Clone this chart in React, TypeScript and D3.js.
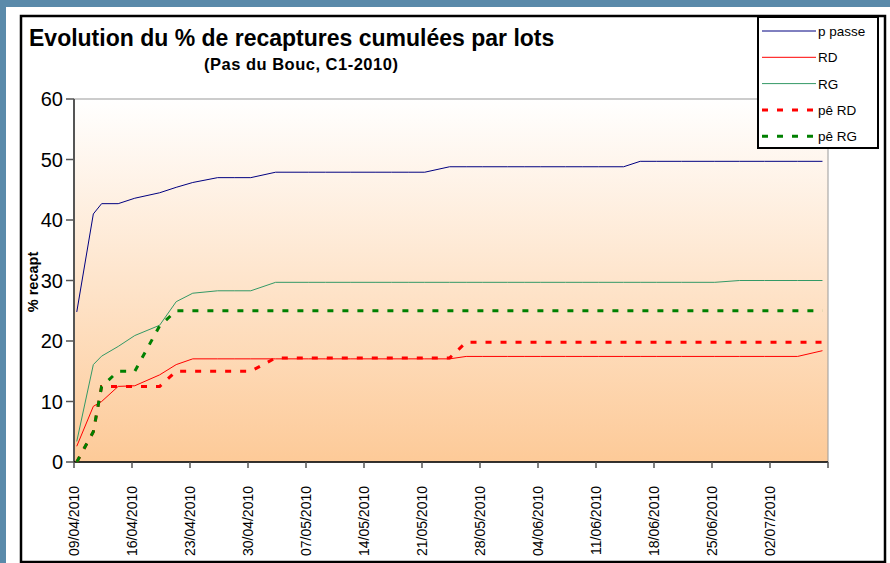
import React from "react";
import * as d3 from "d3";

// ---- data ----
const DATES = [
  "09/04/2010", "11/04/2010", "12/04/2010", "14/04/2010", "16/04/2010", "19/04/2010",
  "21/04/2010", "23/04/2010", "26/04/2010", "28/04/2010", "30/04/2010", "03/05/2010",
  "07/05/2010", "09/05/2010", "12/05/2010", "15/05/2010", "17/05/2010", "19/05/2010",
  "21/05/2010", "24/05/2010", "26/05/2010", "28/05/2010", "31/05/2010", "02/06/2010",
  "04/06/2010", "07/06/2010", "09/06/2010", "11/06/2010", "14/06/2010", "16/06/2010",
  "18/06/2010", "21/06/2010", "25/06/2010", "28/06/2010", "01/07/2010", "05/07/2010",
  "08/07/2010",
];

const P_PASSE = [
  24.8, 41.0, 42.7, 42.7, 43.6, 44.5, 45.4, 46.2, 47.0, 47.0, 47.0,
  47.9, 47.9, 47.9, 47.9, 47.9, 47.9, 47.9, 47.9,
  48.8, 48.8, 48.8, 48.8, 48.8, 48.8, 48.8, 48.8, 48.8, 48.8,
  49.7, 49.7, 49.7, 49.7, 49.7, 49.7, 49.7, 49.7,
];
const RD = [
  2.6, 9.2, 10.0, 12.5, 12.6, 14.4, 16.1,
  17.05, 17.05, 17.05, 17.05, 17.05, 17.05, 17.05, 17.05, 17.05, 17.05, 17.05, 17.05, 17.05,
  17.45, 17.45, 17.45, 17.45, 17.45, 17.45, 17.45, 17.45, 17.45, 17.45, 17.45, 17.45,
  17.45, 17.45, 17.45, 17.45,
  18.4,
];
const RG = [
  3.4, 16.1, 17.5, 19.1, 20.9, 22.6, 26.5, 27.9, 28.3, 28.3, 28.3,
  29.7, 29.7, 29.7, 29.7, 29.7, 29.7, 29.7, 29.7, 29.7, 29.7, 29.7,
  29.7, 29.7, 29.7, 29.7, 29.7, 29.7, 29.7, 29.7, 29.7, 29.7, 29.7,
  30.0, 30.0, 30.0, 30.0,
];
const PE_RD = [
  0, 5, 12.5, 12.5, 12.5, 12.5, 15, 15, 15, 15, 15,
  17.2, 17.2, 17.2, 17.2, 17.2, 17.2, 17.2, 17.2, 17.2,
  19.8, 19.8, 19.8, 19.8, 19.8, 19.8, 19.8, 19.8, 19.8, 19.8,
  19.8, 19.8, 19.8, 19.8, 19.8, 19.8, 19.8,
];
const PE_RG = [
  0, 5, 12.5, 15, 15, 22.5,
  25, 25, 25, 25, 25, 25, 25, 25, 25, 25, 25, 25, 25, 25, 25, 25,
  25, 25, 25, 25, 25, 25, 25, 25, 25, 25, 25, 25, 25, 25, 25,
];

const TICK_DATES = [
  "09/04/2010", "16/04/2010", "23/04/2010", "30/04/2010", "07/05/2010", "14/05/2010",
  "21/05/2010", "28/05/2010", "04/06/2010", "11/06/2010", "18/06/2010", "25/06/2010",
  "02/07/2010", "09/07/2010",
];
const Y_TICKS = [0, 10, 20, 30, 40, 50, 60];

const SERIES = [
  { name: "p passe", values: P_PASSE, color: "#000080", width: 1, dash: null },
  { name: "RD", values: RD, color: "#FF0000", width: 1, dash: null },
  { name: "RG", values: RG, color: "#339966", width: 1, dash: null },
  { name: "pê RD", values: PE_RD, color: "#FF0000", width: 3, dash: "6,9" },
  { name: "pê RG", values: PE_RG, color: "#008000", width: 3, dash: "6,9" },
];

const TITLE = "Evolution du % de recaptures cumulées par lots";
const SUBTITLE = "(Pas du Bouc, C1-2010)";
const Y_TITLE = "% recapt";

const parse = d3.timeParse("%d/%m/%Y");
const POINT_OFFSET_HOURS = 8;

export default function App() {
  const W = 890, H = 563;
  const plot = { left: 74, right: 828, top: 99, bottom: 462 };
  const x = d3.scaleTime()
    .domain([parse(TICK_DATES[0])!, parse(TICK_DATES[TICK_DATES.length - 1])!])
    .range([plot.left, plot.right]);
  const y = d3.scaleLinear().domain([0, 60]).range([plot.bottom, plot.top]);
  const pts = DATES.map((d) => d3.timeHour.offset(parse(d)!, POINT_OFFSET_HOURS));
  const line = d3.line<number>()
    .x((_, i) => x(pts[i]))
    .y((v) => y(v));
  const font = "'Liberation Sans', Arial, sans-serif";
  const legend = { x: 758, y: 17, w: 120, h: 131 };

  return (
    <svg width={W} height={H} style={{ position: "absolute", left: 0, top: 0 }} fontFamily={font}>
      <defs>
        <linearGradient id="bg" x1="0" y1="0" x2="0" y2="1">
          <stop offset="0" stopColor="#FFFFFF" />
          <stop offset="1" stopColor="#FDCA98" />
        </linearGradient>
      </defs>
      <rect x={0} y={0} width={W} height={H} fill="#5A8AAA" />
      <rect x={6} y={7} width={W - 6} height={H - 7} fill="#FFFFFF" />
      <rect x={21} y={16} width={864} height={546} fill="#FFFFFF" stroke="#000" strokeWidth={2.5} />

      {/* plot area */}
      <rect x={plot.left} y={plot.top} width={plot.right - plot.left} height={plot.bottom - plot.top}
        fill="url(#bg)" stroke="#9A9A9A" strokeWidth={1} />

      {/* titles */}
      <text x={29} y={46} fontSize={23} fontWeight="bold" fill="#000">{TITLE}</text>
      <text x={204} y={70} fontSize={16.5} fontWeight="bold" fill="#000" letterSpacing={0.5}>{SUBTITLE}</text>

      {/* y axis */}
      <line x1={plot.left} x2={plot.left} y1={plot.top} y2={plot.bottom} stroke="#555" strokeWidth={2} />
      {Y_TICKS.map((t) => (
        <g key={t}>
          <line x1={plot.left - 8} x2={plot.left} y1={y(t)} y2={y(t)} stroke="#555" strokeWidth={1.5} />
          <text x={63} y={y(t) + 7} fontSize={20} textAnchor="end" fill="#000">{t}</text>
        </g>
      ))}
      <text transform={`translate(38,282) rotate(-90)`} fontSize={14.5} fontWeight="bold" textAnchor="middle" fill="#000">{Y_TITLE}</text>

      {/* x axis */}
      <line x1={plot.left} x2={plot.right} y1={plot.bottom} y2={plot.bottom} stroke="#000" strokeWidth={1.5} />
      {TICK_DATES.map((d, i) => {
        const tx = x(parse(d)!);
        return (
          <g key={d}>
            <line x1={tx} x2={tx} y1={plot.bottom} y2={plot.bottom + 6} stroke="#555" strokeWidth={1.5} />
            {i < TICK_DATES.length - 1 && (
              <text transform={`translate(${tx + 5},486) rotate(-90)`} fontSize={14} textAnchor="end" fill="#000">{d}</text>
            )}
          </g>
        );
      })}

      {/* series */}
      {SERIES.map((s) => (
        <path key={s.name} d={line(s.values) || ""} fill="none" stroke={s.color}
          strokeWidth={s.width} strokeDasharray={s.dash || undefined} />
      ))}

      {/* legend */}
      <rect x={legend.x} y={legend.y} width={legend.w} height={legend.h} fill="#FFFFFF" stroke="#000" strokeWidth={2} />
      {SERIES.map((s, i) => {
        const cy = 31 + i * 26.3;
        return (
          <g key={s.name}>
            <line x1={762} x2={816} y1={cy} y2={cy} stroke={s.color} strokeWidth={s.width}
              strokeDasharray={s.dash || undefined} />
            <text x={818} y={cy + 5} fontSize={13.5} fill="#000">{s.name}</text>
          </g>
        );
      })}
    </svg>
  );
}
